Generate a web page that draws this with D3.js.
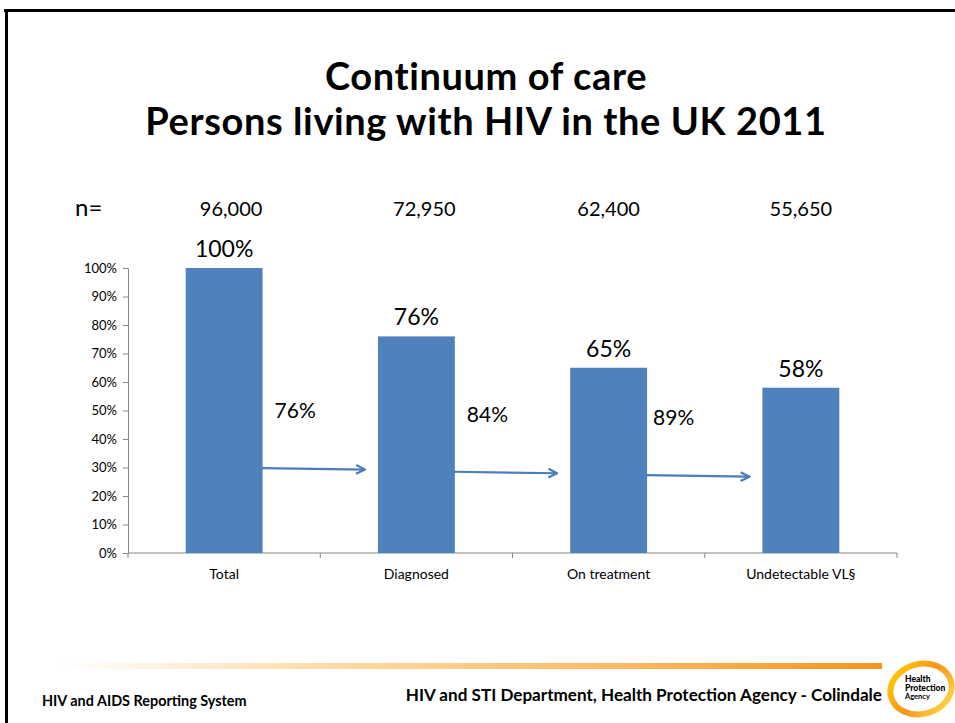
<!DOCTYPE html>
<html><head><meta charset="utf-8">
<script src="https://cdn.jsdelivr.net/npm/d3@7"></script>
<style>
html,body{margin:0;padding:0;background:#fff;}
svg{display:block;}
text{font-family:Lato,"Open Sans",sans-serif;}
</style></head>
<body>
<script>
const categories = ["Total", "Diagnosed", "On treatment", "Undetectable VL§"];
const percentValues = [100, 76, 65, 58];
const nLabels = ["96,000", "72,950", "62,400", "55,650"];
const conversionLabels = ["76%", "84%", "89%"];
const arrowLevels = [29.8, 28.5, 27.3];
const yTicks = [0,10,20,30,40,50,60,70,80,90,100];

(function(){
const W = 955, H = 723;
const svg = d3.select("body").append("svg").attr("width", W).attr("height", H);

// slide frame
svg.append("line").attr("x1",4).attr("x2",W).attr("y1",10.5).attr("y2",10.5).attr("stroke","#000").attr("stroke-width",3);
svg.append("line").attr("x1",6.5).attr("x2",6.5).attr("y1",9).attr("y2",H).attr("stroke","#000").attr("stroke-width",3);

// title
svg.append("text").attr("x",486).attr("y",90).attr("text-anchor","middle")
  .attr("font-size",38).attr("font-weight",700).attr("letter-spacing",0.6).text("Continuum of care");
svg.append("text").attr("x",486).attr("y",135).attr("text-anchor","middle")
  .attr("font-size",38).attr("font-weight",700).attr("letter-spacing",0.6).text("Persons living with HIV in the UK 2011");

const pLeft = 128, pRight = 897, pTop = 268, pBottom = 553;
const x = d3.scaleBand().domain(categories).range([pLeft, pRight]).paddingInner(0.6).paddingOuter(0.3);
const y = d3.scaleLinear().domain([0, 100]).range([pBottom, pTop]);

// y axis
const yAxis = svg.append("g").attr("transform", `translate(${pLeft},0)`)
  .call(d3.axisLeft(y).tickValues(yTicks).tickFormat(d => d + "%").tickSize(5).tickSizeOuter(0));
yAxis.select(".domain").attr("stroke","#868686");
yAxis.selectAll(".tick line").attr("stroke","#868686");
yAxis.selectAll(".tick text").attr("font-size",13).attr("fill","#000").attr("x",-11)
  .style("font-family","Lato,sans-serif");

// x axis
const xAxis = svg.append("g").attr("transform", `translate(0,${pBottom})`);
xAxis.append("line").attr("x1",pLeft).attr("x2",pRight).attr("y1",0).attr("y2",0).attr("stroke","#868686");
const boundaries = d3.range(categories.length + 1).map(i => pLeft + i * (pRight - pLeft) / categories.length);
xAxis.selectAll("line.tk").data(boundaries).join("line").attr("class","tk")
  .attr("x1",d=>d).attr("x2",d=>d).attr("y1",0).attr("y2",5).attr("stroke","#868686");
xAxis.selectAll("text").data(categories).join("text")
  .attr("x", d => x(d) + x.bandwidth()/2).attr("y", 26).attr("text-anchor","middle")
  .attr("font-size",14).attr("fill","#000").text(d => d);

// bars
svg.selectAll("rect.bar").data(categories).join("rect").attr("class","bar")
  .attr("x", d => x(d)).attr("width", x.bandwidth())
  .attr("y", (d,i) => y(percentValues[i])).attr("height", (d,i) => pBottom - y(percentValues[i]))
  .attr("fill","#4f81bd");

// value labels
svg.selectAll("text.val").data(categories).join("text").attr("class","val")
  .attr("x", d => x(d) + x.bandwidth()/2).attr("y", (d,i) => y(percentValues[i]) - 11)
  .attr("text-anchor","middle").attr("font-size",23).attr("fill","#000")
  .text((d,i) => percentValues[i] + "%");

// n row
svg.append("text").attr("x",75).attr("y",216).attr("font-size",24).text("n=");
svg.selectAll("text.n").data(categories).join("text").attr("class","n")
  .attr("x", (d,i) => x(d) + x.bandwidth()/2 + [7,8,0,0][i]).attr("y",216)
  .attr("text-anchor","middle").attr("font-size",20).attr("fill","#000")
  .text((d,i) => nLabels[i]);

// arrows
const defs = svg.append("defs");
defs.append("marker").attr("id","ah").attr("viewBox","0 0 10 10").attr("refX",9).attr("refY",5)
  .attr("markerWidth",5).attr("markerHeight",5).attr("orient","auto")
  .append("path").attr("d","M1,1 L9,5 L1,9").attr("fill","none").attr("stroke","#4a7ebb").attr("stroke-width",2);

conversionLabels.forEach((lab, i) => {
  const x0 = x(categories[i]) + x.bandwidth() - 1;
  const x1 = x(categories[i+1]) - 13;
  const yy = y(arrowLevels[i]);
  svg.append("line").attr("x1",x0).attr("x2",x1).attr("y1",yy).attr("y2",yy + 1.5)
    .attr("stroke","#4a7ebb").attr("stroke-width",2.2).attr("marker-end","url(#ah)");
  svg.append("text").attr("x", x0 + 13 + [0,0,-6][i]).attr("y", y(arrowLevels[i]) - 50)
    .attr("font-size",21).attr("fill","#000").text(lab);
});

// footer gradient line
const g = defs.append("linearGradient").attr("id","fg").attr("x1","0").attr("x2","1");
g.append("stop").attr("offset","0").attr("stop-color","#fbb040").attr("stop-opacity",0);
g.append("stop").attr("offset","0.35").attr("stop-color","#fbb040").attr("stop-opacity",0.5);
g.append("stop").attr("offset","1").attr("stop-color","#f7941d").attr("stop-opacity",1);
svg.append("rect").attr("x",60).attr("y",663).attr("width",822).attr("height",6).attr("fill","url(#fg)");

svg.append("text").attr("x",42).attr("y",706).attr("font-size",14.4).attr("font-weight",700)
  .text("HIV and AIDS Reporting System");
svg.append("text").attr("x",882).attr("y",701).attr("text-anchor","end").attr("font-size",17.1).attr("font-weight",700)
  .text("HIV and STI Department, Health Protection Agency - Colindale");

// logo
const logo = svg.append("g").attr("transform","translate(921,689)");
const lg = defs.append("linearGradient").attr("id","lg").attr("x1","0").attr("y1","0").attr("x2","1").attr("y2","1");
lg.append("stop").attr("offset","0").attr("stop-color","#ffd200");
lg.append("stop").attr("offset","0.5").attr("stop-color","#f7941d");
lg.append("stop").attr("offset","1").attr("stop-color","#ffe14d");
logo.append("ellipse").attr("rx",31).attr("ry",25).attr("fill","none").attr("stroke","url(#lg)").attr("stroke-width",6)
  .attr("transform","rotate(-15)");
logo.append("text").attr("x",-16).attr("y",-7).attr("font-size",8.5).attr("font-weight",900).text("Health");
logo.append("text").attr("x",-16).attr("y",2).attr("font-size",8.5).attr("font-weight",900).text("Protection");
logo.append("text").attr("x",-16).attr("y",10).attr("font-size",7.5).attr("font-weight",700).text("Agency");
})();
</script>
</body></html>
